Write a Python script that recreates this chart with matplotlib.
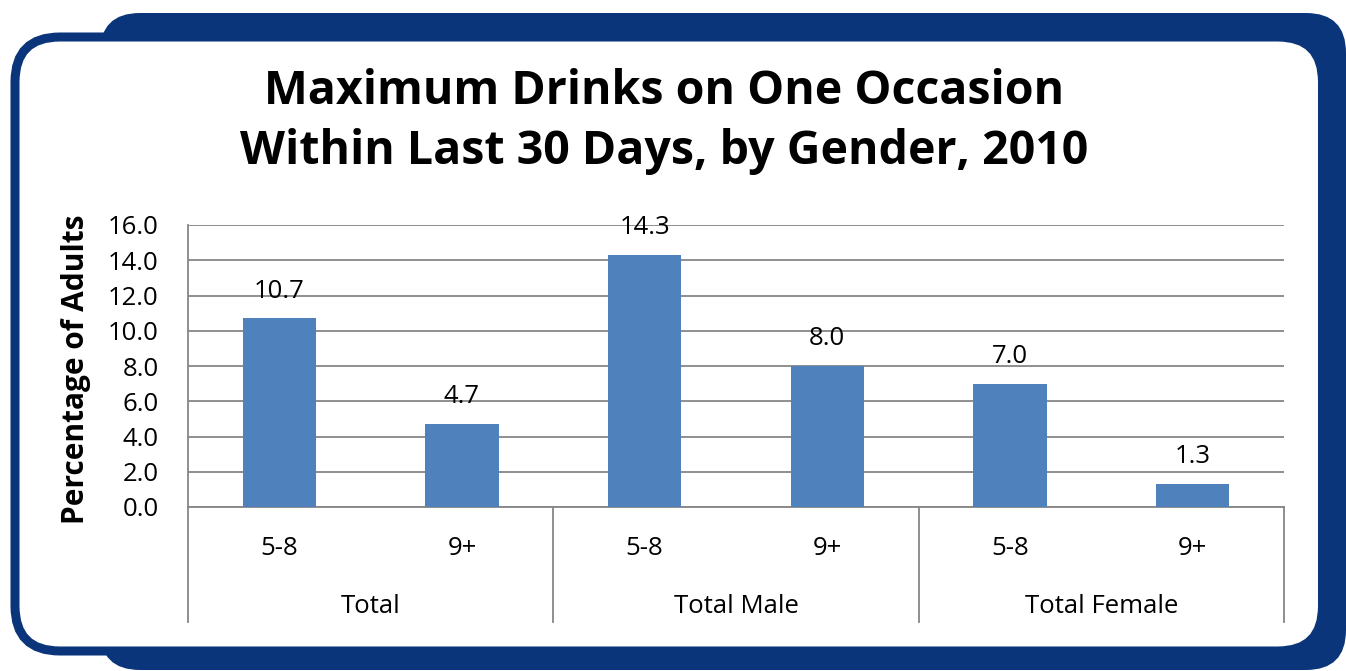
import matplotlib
matplotlib.use("Agg")
import matplotlib.pyplot as plt
from matplotlib.patches import FancyBboxPatch
import matplotlib.transforms as mtransforms

groups = ["Total", "Total Male", "Total Female"]
subcats = ["5-8", "9+"]
values = [10.7, 4.7, 14.3, 8.0, 7.0, 1.3]
yticks = [0, 2, 4, 6, 8, 10, 12, 14, 16]
title_lines = ["Maximum Drinks on One Occasion", "Within Last 30 Days, by Gender, 2010"]
ylabel = "Percentage of Adults"

FONT = ["Open Sans", "DejaVu Sans"]
plt.rcParams["font.family"] = FONT

W, H = 1346, 671
fig = plt.figure(figsize=(W / 100, H / 100), dpi=100)
fig.patch.set_facecolor("white")

# background frame
bg = fig.add_axes([0, 0, 1, 1], zorder=-1)
bg.set_xlim(0, W)
bg.set_ylim(H, 0)
bg.axis("off")
blue = "#0B357A"
bg.add_patch(FancyBboxPatch((100, 13), 1246, 657, boxstyle="round,pad=0,rounding_size=40",
                            facecolor=blue, edgecolor="none"))
bg.add_patch(FancyBboxPatch((15, 37), 1307.5, 614, boxstyle="round,pad=0,rounding_size=45",
                            facecolor="white", edgecolor=blue, linewidth=6.5))

# title (two lines placed by baseline)
for line, base in zip(title_lines, [104, 164]):
    fig.text(664 / W, 1 - base / H, line, ha="center", va="baseline", fontsize=33.5,
             fontweight="bold")

FS = 18.5

# main axes
left, right, top, bottom = 188, 1284, 225, 507
ax = fig.add_axes([left / W, 1 - bottom / H, (right - left) / W, (bottom - top) / H])
n = len(values)
x = list(range(n))
color_bar = "#4F81BD"
ax.bar(x, values, width=0.4, color=color_bar, zorder=3)
ax.set_xlim(-0.5, n - 0.5)
ax.set_ylim(0, 16)
ax.set_yticks(yticks)
ax.set_yticklabels([f"{v:.1f}" for v in yticks], fontsize=FS)
ax.tick_params(axis="y", length=0, pad=21)
ax.tick_params(axis="x", length=0, labelbottom=False)
ax.grid(axis="y", color="#868686", linewidth=1.3, zorder=0)
for s in ["top", "right"]:
    ax.spines[s].set_visible(False)
for s in ["left", "bottom"]:
    ax.spines[s].set_color("#868686")
    ax.spines[s].set_linewidth(1.3)

for xi, v in zip(x, values):
    ax.annotate(f"{v:.1f}", (xi, v), xytext=(0, 15), textcoords="offset points",
                ha="center", va="baseline", fontsize=FS)

fig.text(76 / W, 1 - 369 / H, ylabel, rotation=90, ha="center", va="center",
         fontsize=21.5, fontweight="bold")

# multilevel x axis
trans = mtransforms.blended_transform_factory(ax.transData, ax.transAxes)
ah = bottom - top
for i in range(n):
    ax.text(i, -(555 - bottom) / ah, subcats[i % 2], transform=trans, ha="center",
            va="baseline", fontsize=FS)
for g, name in enumerate(groups):
    ax.text(2 * g + 0.5, -(613 - bottom) / ah, name, transform=trans, ha="center",
            va="baseline", fontsize=FS)
for b in [-0.5, 1.5, 3.5, 5.5]:
    ax.plot([b, b], [0, -(622 - bottom) / ah], transform=trans, color="#868686",
            linewidth=1.3, clip_on=False)

fig.savefig("out.png", dpi=100)
